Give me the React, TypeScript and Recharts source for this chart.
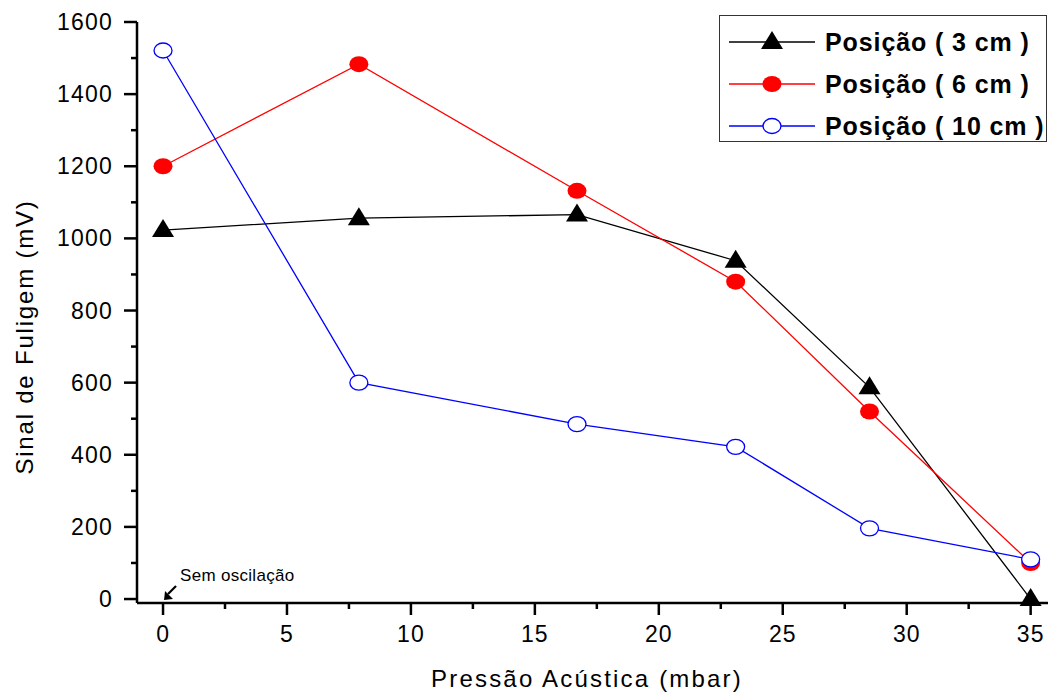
import { LineChart, Line, XAxis, YAxis, ReferenceDot, Label } from "recharts"

const pressure = [0, 7.9, 16.7, 23.1, 28.5, 35]
const pos3cm = [1023, 1056, 1066, 938, 587, 0]
const pos6cm = [1200, 1483, 1132, 880, 520, 100]
const pos10cm = [1521, 600, 485, 422, 196, 110]

const xTicks = [0, 2.5, 5, 7.5, 10, 12.5, 15, 17.5, 20, 22.5, 25, 27.5, 30, 32.5, 35]
const yTicks = [0, 100, 200, 300, 400, 500, 600, 700, 800, 900, 1000, 1100, 1200, 1300, 1400, 1500, 1600]

const data = pressure.map((p, i) => ({
  p,
  a: pos3cm[i],
  b: pos6cm[i],
  c: pos10cm[i],
}))

const series = [
  { key: "a", name: "Posição ( 3 cm )", color: "#000000", marker: "triangle" },
  { key: "b", name: "Posição ( 6 cm )", color: "#ff0000", marker: "filled" },
  { key: "c", name: "Posição ( 10 cm )", color: "#0000ff", marker: "open" },
]

const font = "'Liberation Sans', Arial, sans-serif"

function Marker({ cx, cy, type, color }: any) {
  if (cx == null || cy == null) return null
  if (type === "triangle") {
    return <polygon points={`${cx},${cy - 11} ${cx - 11},${cy + 7} ${cx + 11},${cy + 7}`} fill="#000" />
  }
  if (type === "filled") {
    return <ellipse cx={cx} cy={cy} rx={9.5} ry={8} fill={color} />
  }
  return <ellipse cx={cx} cy={cy} rx={9} ry={7.5} fill="#fff" stroke={color} strokeWidth={1.3} />
}

function XTick(props: any) {
  const { x, y, payload } = props
  const major = payload.value % 5 === 0
  return (
    <g>
      <line x1={x} y1={y} x2={x} y2={y + (major ? 12 : 6)} stroke="#000" strokeWidth={2.5} />
      {major && (
        <text x={x} y={y + 39} textAnchor="middle" fontSize={23} letterSpacing={1} fontFamily={font} fill="#000">
          {payload.value}
        </text>
      )}
    </g>
  )
}

function YTick(props: any) {
  const { x, y, payload } = props
  const major = payload.value % 200 === 0
  return (
    <g>
      <line x1={x} y1={y} x2={x - (major ? 13 : 6)} y2={y} stroke="#000" strokeWidth={2.5} />
      {major && (
        <text x={x - 24} y={y} textAnchor="end" dominantBaseline="central" fontSize={23} letterSpacing={1.2} fontFamily={font} fill="#000">
          {payload.value}
        </text>
      )}
    </g>
  )
}

function Annotation({ cx, cy }: any) {
  return (
    <g>
      <line x1={cx + 13} y1={cy - 13} x2={cx + 5} y2={cy - 5} stroke="#000" strokeWidth={2.2} />
      <polygon points={`${cx + 1},${cy + 1} ${cx + 2},${cy - 8} ${cx + 10},${cy}`} fill="#000" />
      <text x={cx + 17} y={cy - 18} fontSize={17} letterSpacing={0.3} fontFamily={font} fill="#000">
        Sem oscilação
      </text>
    </g>
  )
}

function LegendBox() {
  return (
    <div
      style={{
        position: "absolute",
        left: 719,
        top: 15,
        width: 326,
        height: 125,
        border: "1.5px solid #333",
        background: "#fff",
        fontFamily: font,
      }}
    >
      {series.map((s, i) => (
        <div key={s.key} style={{ position: "absolute", left: 0, top: 26 + i * 42 - 14, height: 28, width: 326 }}>
          <svg width={100} height={28} style={{ position: "absolute", left: 9, top: 0 }}>
            <line x1={0} y1={14} x2={86} y2={14} stroke={s.color} strokeWidth={1.3} />
            <Marker cx={43} cy={14} type={s.marker} color={s.color} />
          </svg>
          <span
            style={{
              position: "absolute",
              left: 105,
              top: 0,
              lineHeight: "28px",
              fontSize: 25,
              fontWeight: "bold",
              letterSpacing: 0.9,
              whiteSpace: "nowrap",
              color: "#000",
            }}
          >
            {s.name}
          </span>
        </div>
      ))}
    </div>
  )
}

export default function App() {
  return (
    <div style={{ position: "absolute", left: 0, top: 0, width: 1049, height: 692, background: "#fff" }}>
      <LineChart width={1049} height={692} data={data} margin={{ top: 22, right: 1, left: 0, bottom: 0 }}>
        <XAxis
          dataKey="p"
          type="number"
          domain={[-1.05, 35.7]}
          ticks={xTicks}
          interval={0}
          height={89}
          tickSize={0}
          tickMargin={0}
          tickLine={false}
          tick={<XTick />}
          axisLine={{ stroke: "#000", strokeWidth: 2.5 }}
        >
          <Label
            content={(p: any) => (
              <text x={587} y={p.viewBox.y + 84} textAnchor="middle" fontSize={24} letterSpacing={2.2} fontFamily={font} fill="#000">
                Pressão Acústica (mbar)
              </text>
            )}
          />
        </XAxis>
        <YAxis
          type="number"
          domain={[-11, 1600]}
          ticks={yTicks}
          interval={0}
          width={137}
          tickSize={0}
          tickMargin={0}
          tickLine={false}
          tick={<YTick />}
          axisLine={{ stroke: "#000", strokeWidth: 2.5 }}
        >
          <Label
            content={() => (
              <text
                x={33}
                y={337}
                transform="rotate(-90 33 337)"
                textAnchor="middle"
                fontSize={24}
                letterSpacing={1.8}
                fontFamily={font}
                fill="#000"
              >
                Sinal de Fuligem (mV)
              </text>
            )}
          />
        </YAxis>
        {series.map((s) => (
          <Line
            key={s.key}
            dataKey={s.key}
            name={s.name}
            type="linear"
            stroke={s.color}
            strokeWidth={1.3}
            isAnimationActive={false}
            dot={(p: any) => <Marker key={`${s.key}-${p.index}`} cx={p.cx} cy={p.cy} type={s.marker} color={s.color} />}
            activeDot={false}
          />
        ))}
        <ReferenceDot x={0} y={0} shape={<Annotation />} />
      </LineChart>
      <LegendBox />
    </div>
  )
}
